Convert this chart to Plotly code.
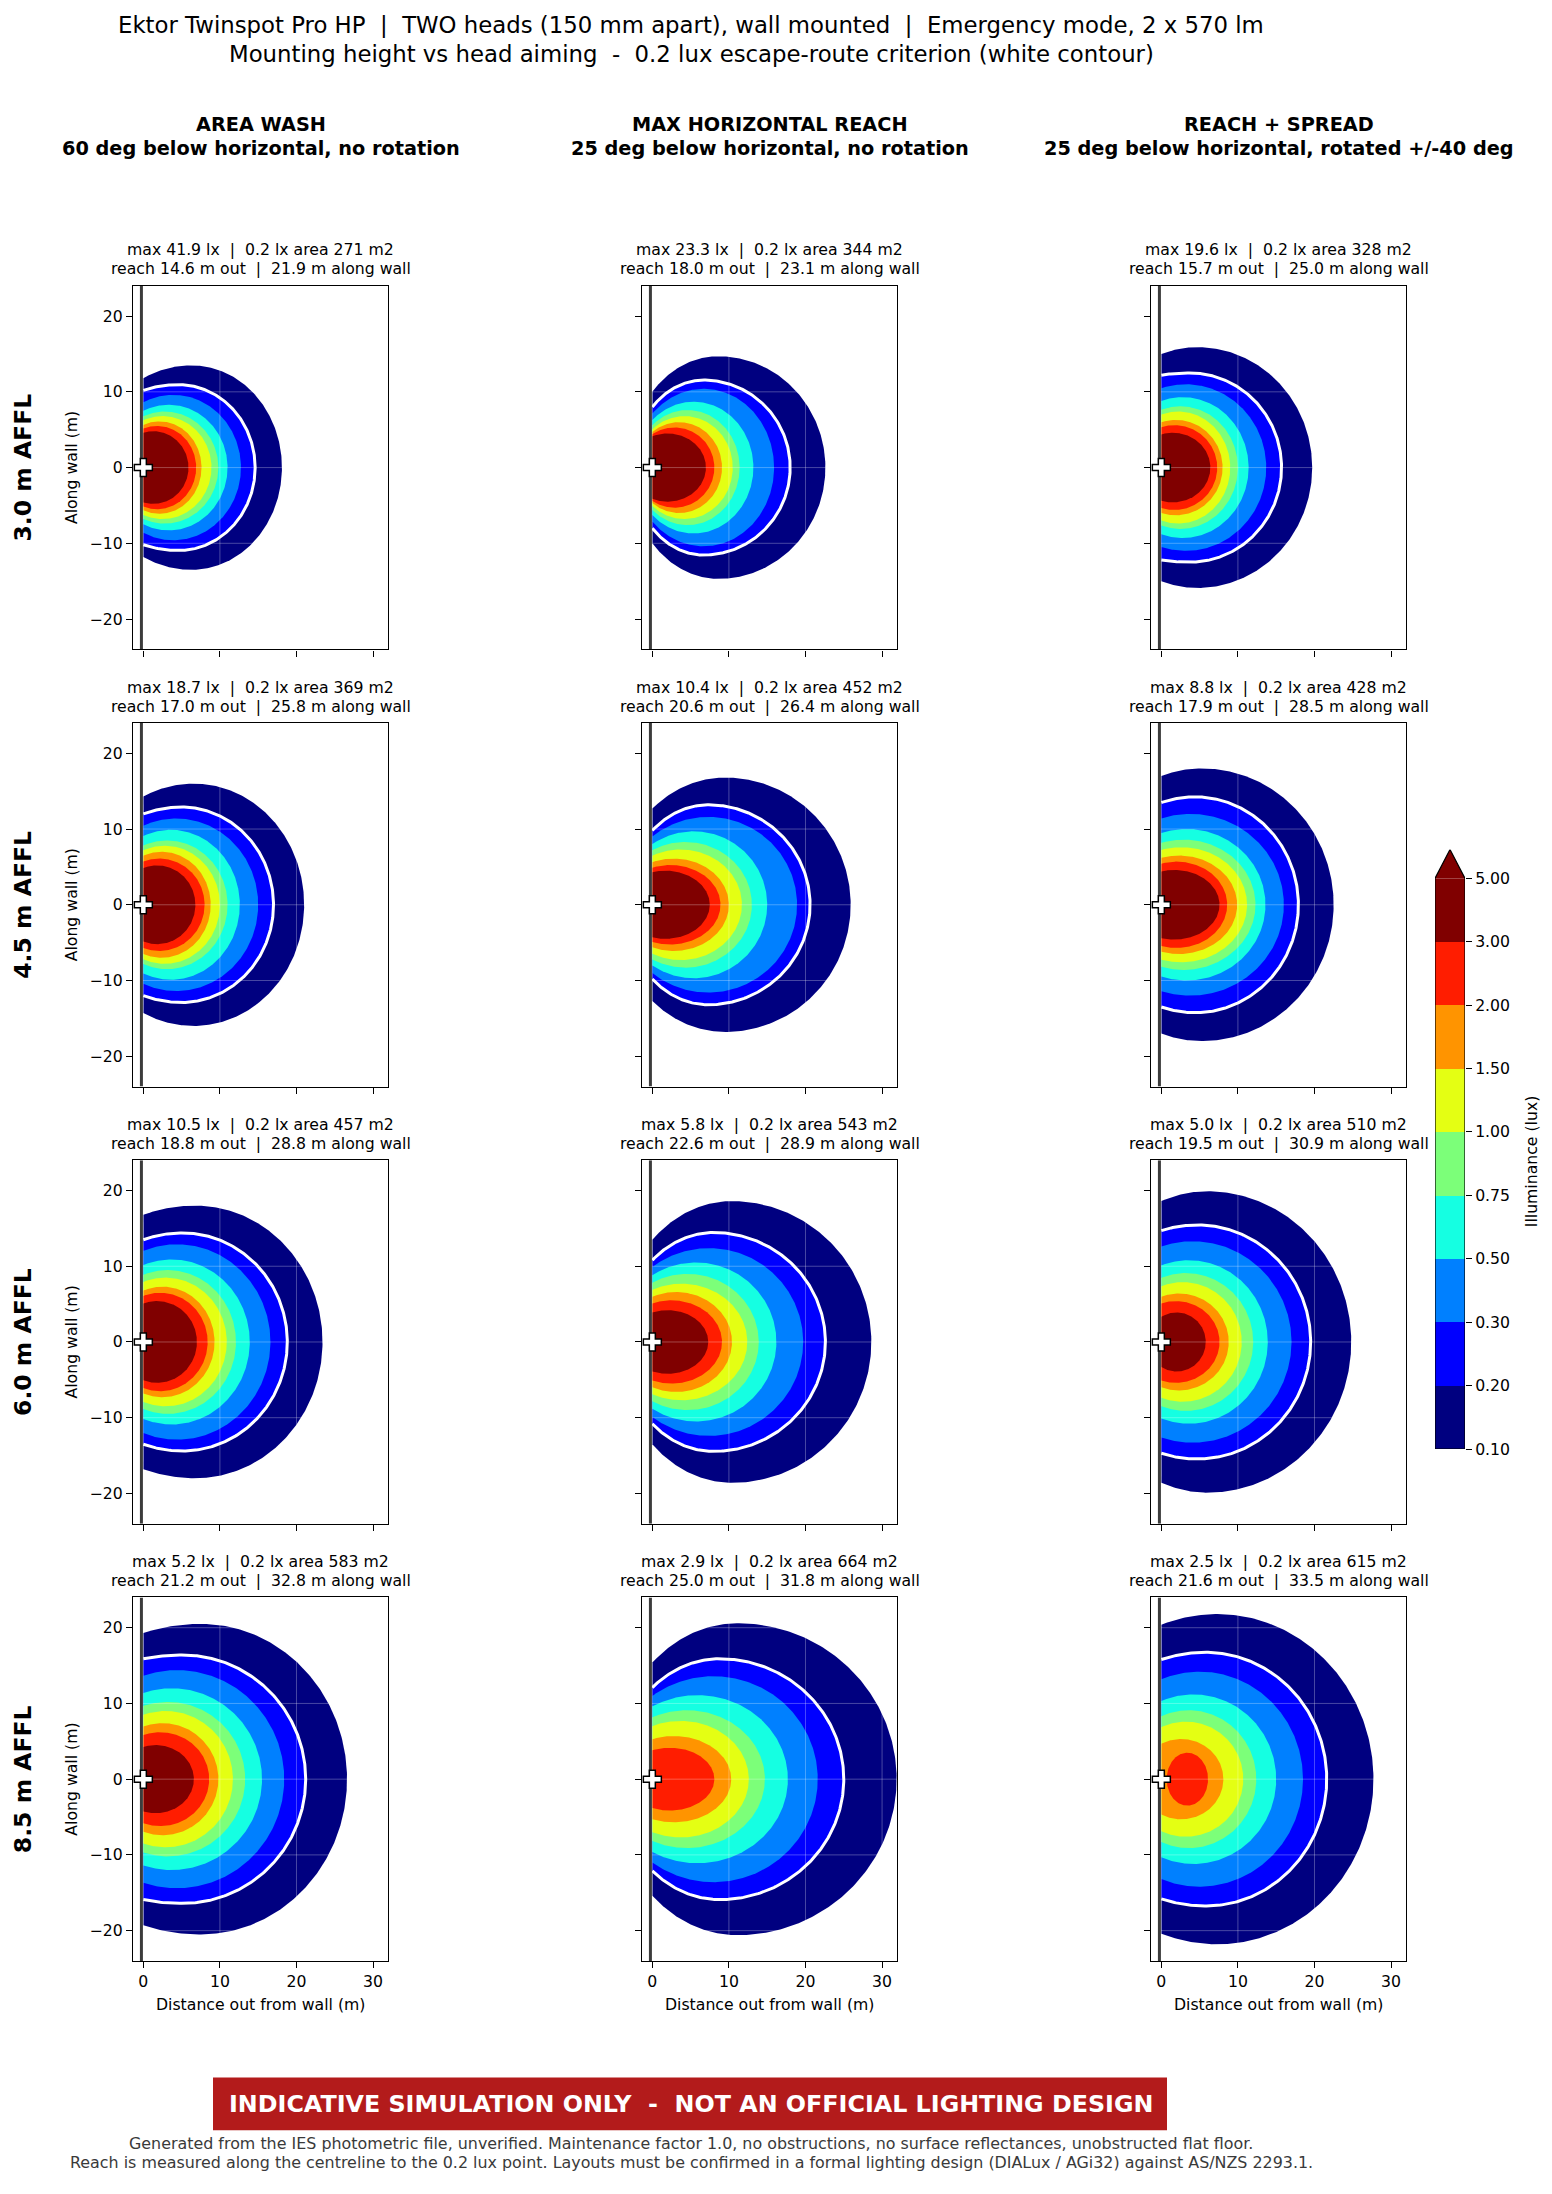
import numpy as np
import plotly.graph_objects as go

W, H = 1552, 2194

# illuminance band boundaries (lux) and the jet-style band colours
LEVELS = [0.1, 0.2, 0.3, 0.5, 0.75, 1.0, 1.5, 2.0, 3.0, 5.0]
BAND_COLOURS = ["#000080", "#0000ff", "#0080ff", "#15ffe2", "#7cff79",
                "#e4ff13", "#ff9400", "#ff1d00", "#800000"]

ROW_LABELS = ["3.0 m AFFL", "4.5 m AFFL", "6.0 m AFFL", "8.5 m AFFL"]
COL_TITLES = ["AREA WASH", "MAX HORIZONTAL REACH", "REACH + SPREAD"]
COL_NOTES = ["60 deg below horizontal, no rotation",
             "25 deg below horizontal, no rotation",
             "25 deg below horizontal, rotated +/-40 deg"]

# panel statistics, rows = mounting height, cols = aiming
MAX_LX = [[41.9, 23.3, 19.6], [18.7, 10.4, 8.8], [10.5, 5.8, 5.0], [5.2, 2.9, 2.5]]
AREA_M2 = [[271, 344, 328], [369, 452, 428], [457, 543, 510], [583, 664, 615]]
REACH_M = [[14.6, 18.0, 15.7], [17.0, 20.6, 17.9], [18.8, 22.6, 19.5], [21.2, 25.0, 21.6]]
ALONG_M = [[21.9, 23.1, 25.0], [25.8, 26.4, 28.5], [28.8, 28.9, 30.9], [32.8, 31.8, 33.5]]

# iso-lux contours, one value per boundary from 0.1 lx inward
# out  = furthest point on the centreline
# half = widest half-span along the wall
# mid  = distance from the wall where that widest point sits
# wall = half-span where the contour meets the wall (outer contours only)
OUT_30_WASH = [18.1, 14.6, 12.75, 11.0, 9.8, 8.9, 7.6, 6.9, 5.9]
HALF_30_WASH = [13.5, 10.95, 9.6, 8.3, 7.4, 6.8, 6.1, 5.5, 4.8]
MID_30_WASH = [6.3, 4.6, 3.9, 3.3, 2.8, 2.5, 2.1, 1.8, 1.3]
WALL_30_WASH = [11.8, 10.2]

OUT_30_REACH = [22.6, 18.0, 15.9, 13.2, 11.4, 10.5, 9.1, 8.1, 7.0]
HALF_30_REACH = [14.7, 11.55, 10.4, 8.7, 7.6, 6.8, 6.0, 5.3, 4.5]
MID_30_REACH = [8.6, 6.7, 6.7, 5.4, 4.6, 4.2, 3.5, 2.9, 2.0]
WALL_30_REACH = [10.0, 8.0]

OUT_30_SPREAD = [19.7, 15.7, 13.7, 11.4, 10.0, 9.0, 8.0, 7.3, 6.4]
HALF_30_SPREAD = [15.9, 12.5, 11.0, 9.3, 8.1, 7.4, 6.3, 5.6, 4.6]
MID_30_SPREAD = [4.7, 3.7, 3.2, 2.8, 2.5, 2.2, 1.9, 1.7, 1.5]
WALL_30_SPREAD = [15.0, 12.2]

OUT_45_WASH = [21.0, 17.0, 15.0, 12.6, 11.0, 10.0, 8.8, 8.0, 6.8]
HALF_45_WASH = [16.0, 12.9, 11.4, 9.9, 8.5, 7.8, 7.0, 6.1, 5.2]
MID_45_WASH = [6.6, 5.0, 4.3, 3.6, 3.1, 2.8, 2.4, 2.1, 1.8]
WALL_45_WASH = [14.3, 12.0]

OUT_45_REACH = [25.9, 20.6, 18.9, 15.0, 13.0, 11.7, 10.0, 8.9, 7.5]
HALF_45_REACH = [16.8, 13.2, 11.6, 9.7, 8.3, 7.3, 6.1, 5.25, 4.5]
MID_45_REACH = [9.5, 7.3, 7.3, 5.4, 4.3, 3.7, 2.8, 2.35, 1.7]
WALL_45_REACH = [12.7, 9.8]

OUT_45_SPREAD = [22.5, 17.9, 16.0, 13.6, 12.3, 11.2, 9.9, 8.6, 7.6]
HALF_45_SPREAD = [18.0, 14.25, 12.0, 10.0, 8.6, 7.6, 6.5, 5.7, 4.6]
MID_45_SPREAD = [5.3, 4.4, 3.8, 3.3, 2.9, 2.6, 2.3, 2.0, 1.7]
WALL_45_SPREAD = [17.0, 13.5]

OUT_60_WASH = [23.4, 18.8, 16.6, 13.9, 12.1, 10.9, 9.3, 8.4, 7.0]
HALF_60_WASH = [18.0, 14.4, 12.9, 10.9, 9.5, 8.5, 7.3, 6.5, 5.4]
MID_60_WASH = [6.8, 5.1, 4.4, 3.7, 3.2, 2.9, 2.5, 2.2, 1.8]
WALL_60_WASH = [16.8, 13.5]

OUT_60_REACH = [28.6, 22.6, 19.7, 16.2, 13.9, 12.4, 10.4, 9.1, 7.3]
HALF_60_REACH = [18.6, 14.45, 12.4, 10.5, 9.0, 7.7, 6.6, 5.5, 4.2]
MID_60_REACH = [10.4, 8.0, 7.4, 5.7, 4.6, 3.8, 3.1, 2.5, 2.0]
WALL_60_REACH = [13.5, 10.8]

OUT_60_SPREAD = [24.8, 19.5, 17.0, 13.9, 12.0, 10.5, 8.8, 7.6, 5.8]
HALF_60_SPREAD = [19.9, 15.45, 13.3, 10.8, 9.1, 7.9, 6.4, 5.4, 3.9]
MID_60_SPREAD = [6.0, 4.7, 4.1, 3.6, 3.2, 2.8, 2.3, 1.9, 2.0]
WALL_60_SPREAD = [18.6, 14.7]

OUT_85_WASH = [26.6, 21.2, 18.4, 15.5, 13.3, 11.7, 9.8, 8.6, 6.6]
HALF_85_WASH = [20.5, 16.4, 14.4, 12.0, 10.2, 9.0, 7.4, 6.2, 4.5]
MID_85_WASH = [7.5, 5.1, 4.4, 3.7, 3.2, 2.9, 2.5, 2.2, 1.6]
WALL_85_WASH = [19.3, 15.9]

OUT_85_REACH = [31.9, 25.0, 21.6, 17.7, 14.7, 12.6, 10.3, 8.1]
HALF_85_REACH = [20.6, 15.9, 13.6, 11.1, 9.1, 7.7, 5.7, 4.15]
MID_85_REACH = [11.1, 8.8, 8.0, 5.9, 4.5, 3.7, 2.8, 2.3]
WALL_85_REACH = [15.4, 12.1]

OUT_85_SPREAD = [27.7, 21.6, 18.5, 15.0, 12.4, 10.7, 8.1, 6.1]
HALF_85_SPREAD = [21.8, 16.75, 14.2, 11.2, 9.1, 7.6, 5.3, 3.5]
MID_85_SPREAD = [7.3, 5.8, 5.0, 4.2, 3.6, 3.2, 2.6, 3.4]
WALL_85_SPREAD = [20.4, 15.8]

OUT = [[OUT_30_WASH, OUT_30_REACH, OUT_30_SPREAD],
       [OUT_45_WASH, OUT_45_REACH, OUT_45_SPREAD],
       [OUT_60_WASH, OUT_60_REACH, OUT_60_SPREAD],
       [OUT_85_WASH, OUT_85_REACH, OUT_85_SPREAD]]
HALF = [[HALF_30_WASH, HALF_30_REACH, HALF_30_SPREAD],
        [HALF_45_WASH, HALF_45_REACH, HALF_45_SPREAD],
        [HALF_60_WASH, HALF_60_REACH, HALF_60_SPREAD],
        [HALF_85_WASH, HALF_85_REACH, HALF_85_SPREAD]]
MID = [[MID_30_WASH, MID_30_REACH, MID_30_SPREAD],
       [MID_45_WASH, MID_45_REACH, MID_45_SPREAD],
       [MID_60_WASH, MID_60_REACH, MID_60_SPREAD],
       [MID_85_WASH, MID_85_REACH, MID_85_SPREAD]]
WALL = [[WALL_30_WASH, WALL_30_REACH, WALL_30_SPREAD],
        [WALL_45_WASH, WALL_45_REACH, WALL_45_SPREAD],
        [WALL_60_WASH, WALL_60_REACH, WALL_60_SPREAD],
        [WALL_85_WASH, WALL_85_REACH, WALL_85_SPREAD]]

X_TICKS = [0, 10, 20, 30]
Y_TICKS = [-20, -10, 0, 10, 20]
X_RANGE = [-1.35, 31.95]
Y_RANGE = [-24, 24]
WALL_X = -0.25

# layout in pixels
PANEL_LEFT = [133, 642, 1151]
PANEL_TOP = [287, 726, 1165, 1604]
PANEL_W, PANEL_H = 255, 365
FONT = "DejaVu Sans"
SMALL = 15.7


def px(x):
    return x / W


def py(y):
    return 1 - y / H


def outline(out, half, mid, wall=None, n=300):
    """Iso-lux outline (two half-ellipses joined at the widest point), cut at the wall."""
    a_r = out - mid
    a_l = a_r if wall is None else mid / np.sqrt(1 - (wall / half) ** 2)
    t0 = np.arccos(max(-1.0, -mid / a_l))
    t = np.linspace(-t0, t0, n)
    a = np.where(np.cos(t) >= 0, a_r, a_l)
    x = np.clip(mid + a * np.cos(t), 0, None)
    y = half * np.sin(t)
    return x, y


def label(text, x, y, size=SMALL, color="black", angle=0):
    return dict(text=text, x=px(x), y=py(y), xref="paper", yref="paper", showarrow=False,
                xanchor="center", yanchor="middle", textangle=angle,
                font=dict(size=size, color=color))


fig = go.Figure()
annotations = []
layout_axes = {}

for r in range(4):
    for c in range(3):
        n = r * 3 + c + 1
        xa = "x" if n == 1 else f"x{n}"
        ya = "y" if n == 1 else f"y{n}"

        outs, halves, mids, walls = OUT[r][c], HALF[r][c], MID[r][c], WALL[r][c]
        rings = []
        for k in range(len(outs)):
            w = walls[k] if k < len(walls) else None
            rings.append(outline(outs[k], halves[k], mids[k], w))
        for k, (x, y) in enumerate(rings):
            fig.add_trace(go.Scatter(x=x, y=y, mode="lines", fill="toself",
                                     fillcolor=BAND_COLOURS[k], line=dict(width=0),
                                     hoverinfo="skip", showlegend=False,
                                     xaxis=xa, yaxis=ya))

        # faint grid over the fill
        gx, gy = [], []
        for v in X_TICKS:
            gx += [v, v, None]
            gy += [Y_RANGE[0], Y_RANGE[1], None]
        for v in Y_TICKS:
            gx += [X_RANGE[0], X_RANGE[1], None]
            gy += [v, v, None]
        fig.add_trace(go.Scatter(x=gx, y=gy, mode="lines",
                                 line=dict(color="rgba(255,255,255,0.28)", width=1),
                                 hoverinfo="skip", showlegend=False, xaxis=xa, yaxis=ya))

        # 0.2 lx escape-route contour
        x, y = rings[1]
        fig.add_trace(go.Scatter(x=x, y=y, mode="lines",
                                 line=dict(color="white", width=3),
                                 hoverinfo="skip", showlegend=False, xaxis=xa, yaxis=ya))

        # wall and luminaire
        fig.add_trace(go.Scatter(x=[WALL_X, WALL_X], y=Y_RANGE, mode="lines",
                                 line=dict(color="#3c3c3c", width=3),
                                 hoverinfo="skip", showlegend=False, xaxis=xa, yaxis=ya))
        fig.add_trace(go.Scatter(x=[0], y=[0], mode="markers", cliponaxis=False,
                                 marker=dict(symbol="cross", size=15, color="white",
                                             line=dict(color="black", width=1.5)),
                                 hoverinfo="skip", showlegend=False, xaxis=xa, yaxis=ya))

        x0 = PANEL_LEFT[c]
        y0 = PANEL_TOP[r]
        common = dict(ticks="outside", ticklen=6, tickwidth=1.2, tickcolor="black",
                      showline=True, mirror=True, linecolor="black", linewidth=1.4,
                      showgrid=False, zeroline=False, tickfont=dict(size=SMALL, color="black"))
        layout_axes["xaxis" if n == 1 else f"xaxis{n}"] = dict(
            domain=[px(x0), px(x0 + PANEL_W)], range=X_RANGE, anchor=ya,
            tickvals=X_TICKS, ticktext=[str(v) for v in X_TICKS],
            showticklabels=(r == 3), **common)
        layout_axes["yaxis" if n == 1 else f"yaxis{n}"] = dict(
            domain=[py(y0 + PANEL_H), py(y0)], range=Y_RANGE, anchor=xa,
            tickvals=Y_TICKS, ticktext=[str(v).replace("-", "\u2212") for v in Y_TICKS],
            showticklabels=(c == 0), **common)

        cx = x0 + PANEL_W / 2
        sub1 = f"max {MAX_LX[r][c]:.1f} lx\u00a0\u00a0|\u00a0\u00a00.2 lx area {AREA_M2[r][c]} m2"
        sub2 = f"reach {REACH_M[r][c]:.1f} m out\u00a0\u00a0|\u00a0\u00a0{ALONG_M[r][c]:.1f} m along wall"
        annotations.append(label(sub1, cx, y0 - 36))
        annotations.append(label(sub2, cx, y0 - 17))
        if c == 0:
            annotations.append(label("Along wall (m)", 71.5, y0 + PANEL_H / 2, angle=-90))
            annotations.append(label(f"<b>{ROW_LABELS[r]}</b>", 23, y0 + PANEL_H / 2,
                                     size=23.5, angle=-90))
        if r == 3:
            annotations.append(label("Distance out from wall (m)", cx, 2013))

# column headers
for c in range(3):
    cx = PANEL_LEFT[c] + PANEL_W / 2
    annotations.append(label(f"<b>{COL_TITLES[c]}</b>", cx, 125, size=19.3))
    annotations.append(label(f"<b>{COL_NOTES[c]}</b>", cx, 149, size=19.3))

# colour bar built from the band list
nb = len(BAND_COLOURS)
scale = []
for i, col in enumerate(BAND_COLOURS):
    scale += [[i / nb, col], [(i + 1) / nb, col]]
fig.add_trace(go.Heatmap(z=[[i] for i in range(nb)], x=[0.5], y=[i + 0.5 for i in range(nb)],
                         colorscale=scale, zmin=-0.5, zmax=nb - 0.5, showscale=False,
                         hoverinfo="skip", xaxis="x13", yaxis="y13"))
tip = nb + 0.455
fig.add_trace(go.Scatter(x=[0, 1, 0.5, 0], y=[nb, nb, tip, nb], mode="lines", fill="toself",
                         fillcolor=BAND_COLOURS[-1], line=dict(width=0), cliponaxis=False,
                         hoverinfo="skip", showlegend=False, xaxis="x13", yaxis="y13"))
fig.add_trace(go.Scatter(x=[0, 1, 1, 0.5, 0, 0], y=[0, 0, nb, tip, nb, 0], mode="lines",
                         line=dict(color="black", width=1.2), cliponaxis=False,
                         hoverinfo="skip", showlegend=False, xaxis="x13", yaxis="y13"))
layout_axes["xaxis13"] = dict(domain=[px(1435), px(1465)], range=[0, 1], anchor="y13",
                              visible=False)
layout_axes["yaxis13"] = dict(domain=[py(1455), py(853)], range=[0, tip], anchor="x13",
                              side="right", tickvals=list(range(len(LEVELS))),
                              ticktext=[f"{v:.2f}" for v in LEVELS], ticks="outside",
                              ticklen=6, tickwidth=1.2, tickcolor="black", showline=False,
                              showgrid=False, zeroline=False,
                              tickfont=dict(size=SMALL, color="black"))
annotations.append(label("Illuminance (lux)", 1531, 1166, angle=-90))

# titles
annotations.append(label("Ektor Twinspot Pro HP\u00a0\u00a0|\u00a0\u00a0TWO heads (150 mm apart), wall mounted"
                         "\u00a0\u00a0|\u00a0\u00a0Emergency mode, 2 x 570 lm", 691, 25, size=22.8))
annotations.append(label("Mounting height vs head aiming\u00a0\u00a0-\u00a0\u00a00.2 lux escape-route "
                         "criterion (white contour)", 691, 54, size=22.8))

# disclaimer banner and footer
annotations.append(label("<b>INDICATIVE SIMULATION ONLY\u00a0\u00a0-\u00a0\u00a0NOT AN OFFICIAL "
                         "LIGHTING DESIGN</b>", 690.5, 2112.5, size=23.8, color="white"))
annotations.append(label("Generated from the IES photometric file, unverified. Maintenance factor 1.0, "
                         "no obstructions, no surface reflectances, unobstructed flat floor.",
                         691, 2152, size=15.9, color="#3a3a3a"))
annotations.append(label("Reach is measured along the centreline to the 0.2 lux point. Layouts must be "
                         "confirmed in a formal lighting design (DIALux / AGi32) against AS/NZS 2293.1.",
                         691, 2171, size=15.9, color="#3a3a3a"))

shapes = [dict(type="rect", xref="paper", yref="paper", x0=px(213), x1=px(1167),
               y0=py(2139), y1=py(2086), fillcolor="#b31b1b", line=dict(width=0), layer="below")]

fig.update_layout(width=W, height=H, margin=dict(l=0, r=0, t=0, b=0),
                  paper_bgcolor="white", plot_bgcolor="white",
                  font=dict(family=FONT, color="black"),
                  showlegend=False, annotations=annotations, shapes=shapes,
                  **layout_axes)

fig.write_html("out.html", config={"displayModeBar": False},
               post_script="document.body.style.margin='0px';")
